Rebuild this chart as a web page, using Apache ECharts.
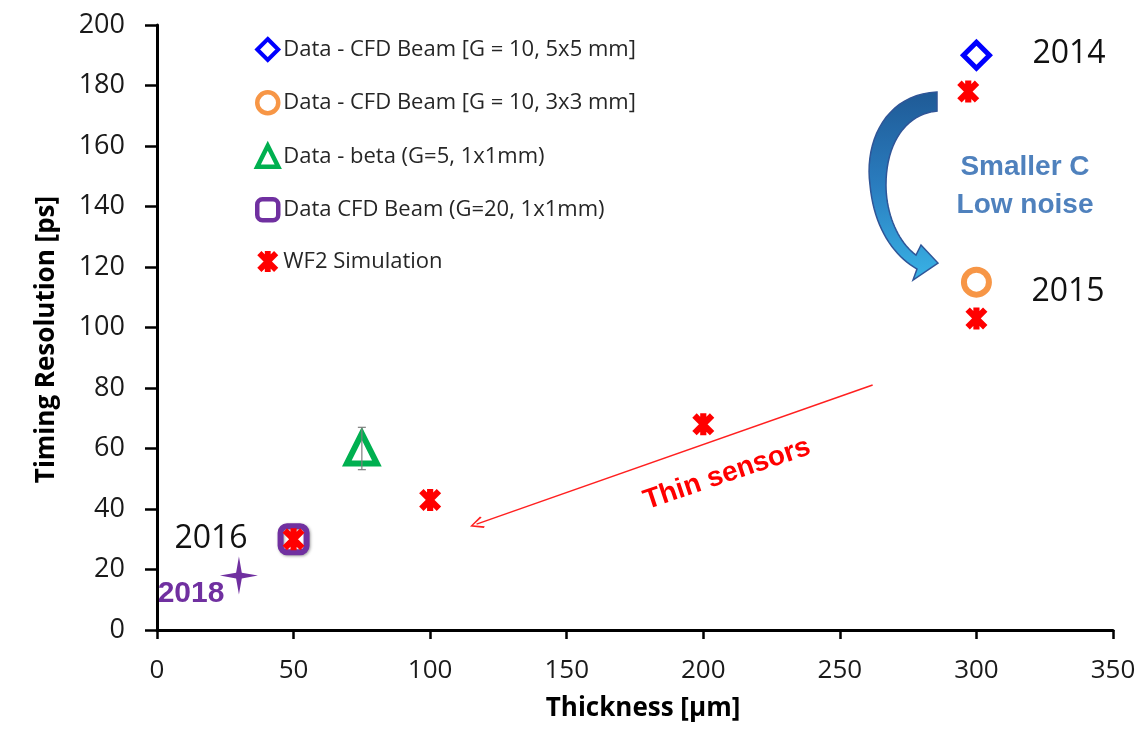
<!DOCTYPE html>
<html><head><meta charset="utf-8">
<script src="https://cdn.jsdelivr.net/npm/echarts@6/dist/echarts.min.js"></script>
<style>html,body{margin:0;padding:0;background:#fff}#c{width:1146px;height:730px}</style>
</head><body><div id="c"></div>
<script>
// ---- data ----
const seriesNames = [
  'Data - CFD Beam [G = 10, 5x5 mm]',
  'Data - CFD Beam [G = 10, 3x3 mm]',
  'Data - beta (G=5, 1x1mm)',
  'Data CFD Beam (G=20, 1x1mm)',
  'WF2 Simulation'
];
const cfd5x5 = [[300, 190]];
const cfd3x3 = [[300, 115]];
const betaData = [[75, 60]];
const betaErr = [[75, 53, 67]];
const cfdG20 = [[50, 30]];
const wf2Sim = [[297, 178], [300, 103], [200, 68], [100, 43], [50, 30]];
const point2018 = [[30, 18]];
const thinArrow = [[262, 81], [117, 35]];
const xMin = 0, xMax = 350, xStep = 50;
const yMin = 0, yMax = 200, yStep = 20;

// ---- symbols ----
const simSymbol = 'path://M-1.4,-5L1.4,-5L1.4,5L-1.4,5Z M-3,-5L5,3L3,5L-5,-3Z M3,-5L5,-3L-3,5L-5,3Z';
const starSymbol = 'path://M0,-10L1.5,-1.5L10,0L1.5,1.5L0,10L-1.5,1.5L-10,0L-1.5,-1.5Z';
const chevron = 'path://M0,0L6,10L4.6,11L0,2.6L-4.6,11L-6,10Z';

// decorative curved arrow (pixel space)
function bez(p0, p1, p2, p3, n) {
  const pts = [];
  for (let i = 0; i <= n; i++) {
    const t = i / n, u = 1 - t;
    pts.push([
      u*u*u*p0[0] + 3*u*u*t*p1[0] + 3*u*t*t*p2[0] + t*t*t*p3[0],
      u*u*u*p0[1] + 3*u*u*t*p1[1] + 3*u*t*t*p2[1] + t*t*t*p3[1]
    ]);
  }
  return pts;
}
const arrowPts = [].concat(
  bez([937, 92], [887, 94], [864, 140], [870, 185], 20),
  bez([870, 185], [874, 228], [894, 256], [917, 269], 20),
  [[913, 280], [938, 263], [921, 245]],
  bez([916, 255], [899, 243], [886, 215], [886, 185], 20),
  bez([886, 185], [886, 143], [906, 114], [937, 111], 20)
);

const chart = echarts.init(document.getElementById('c'));
const FONT = 'Open Sans';
chart.setOption({
  animation: false,
  backgroundColor: '#fff',
  grid: { left: 157, right: 33, top: 25, bottom: 100, containLabel: false, outerBoundsMode: 'none' },
  xAxis: {
    type: 'value', min: xMin, max: xMax, interval: xStep,
    axisLine: { show: true, lineStyle: { color: '#000', width: 3 } },
    axisTick: { show: true, length: 9, lineStyle: { color: '#000', width: 2.5 } },
    splitLine: { show: false },
    axisLabel: { margin: 28, fontSize: 26, fontFamily: FONT, color: '#1a1a1a' },
    name: 'Thickness [µm]', nameLocation: 'middle', nameGap: 66,
    nameTextStyle: { fontFamily: FONT, fontWeight: 'bold', fontSize: 26, color: '#000', padding: [0, 0, 0, 16] }
  },
  yAxis: {
    type: 'value', min: yMin, max: yMax, interval: yStep,
    axisLine: { show: true, lineStyle: { color: '#000', width: 3 } },
    axisTick: { show: true, length: 12, lineStyle: { color: '#000', width: 2.5 } },
    splitLine: { show: false },
    axisLabel: { margin: 32, fontSize: 27, fontFamily: FONT, color: '#1a1a1a' },
    name: 'Timing Resolution [ps]', nameLocation: 'middle', nameGap: 97,
    nameTextStyle: { fontFamily: FONT, fontWeight: 'bold', fontSize: 26, color: '#000', padding: [0, 24, 0, 0] }
  },
  legend: {
    orient: 'vertical', left: 250, top: 32, itemWidth: 21, itemHeight: 21, itemGap: 28,
    selectedMode: false,
    textStyle: { fontFamily: FONT, fontSize: 22, color: '#262626', lineHeight: 22 },
    data: [
      { name: seriesNames[0], itemStyle: { borderWidth: 4 } },
      { name: seriesNames[1], itemStyle: { borderWidth: 4.5 } },
      { name: seriesNames[2], itemStyle: { borderWidth: 4.5 } },
      { name: seriesNames[3], itemStyle: { borderWidth: 4.5 } },
      { name: seriesNames[4] }
    ]
  },
  series: [
    { name: seriesNames[0], type: 'scatter', data: cfd5x5, symbol: 'diamond', symbolSize: 26,
      itemStyle: { color: '#fff', borderColor: '#0000ff', borderWidth: 5, opacity: 1 } },
    { name: seriesNames[1], type: 'scatter', data: cfd3x3, symbol: 'circle', symbolSize: 25,
      itemStyle: { color: '#fff', borderColor: '#f79646', borderWidth: 6, opacity: 1 } },
    { name: seriesNames[2], type: 'scatter', data: betaData, symbol: 'triangle', symbolSize: 30,
      itemStyle: { color: '#fff', borderColor: '#00b050', borderWidth: 6, opacity: 1 } },
    { name: 'beta error', type: 'custom', data: betaErr, z: 5,
      encode: { x: 0, y: [1, 2] },
      renderItem: function (params, api) {
        const x = api.value(0);
        const lo = api.coord([x, api.value(1)]);
        const hi = api.coord([x, api.value(2)]);
        const w = 4;
        const st = { stroke: '#7f7f7f', lineWidth: 1.2 };
        return { type: 'group', children: [
          { type: 'line', shape: { x1: lo[0], y1: lo[1], x2: hi[0], y2: hi[1] }, style: st },
          { type: 'line', shape: { x1: lo[0] - w, y1: lo[1], x2: lo[0] + w, y2: lo[1] }, style: st },
          { type: 'line', shape: { x1: hi[0] - w, y1: hi[1], x2: hi[0] + w, y2: hi[1] }, style: st }
        ]};
      } },
    { name: seriesNames[3], type: 'scatter', data: cfdG20, symbol: 'roundRect', symbolSize: 26,
      itemStyle: { color: '#fff', borderColor: '#7030a0', borderWidth: 6, opacity: 1,
        shadowColor: 'rgba(0,0,0,0.35)', shadowBlur: 3, shadowOffsetX: 1, shadowOffsetY: 1 } },
    { name: seriesNames[4], type: 'scatter', data: wf2Sim, symbol: simSymbol, symbolSize: 22, z: 6,
      itemStyle: { color: '#ff0000', opacity: 1 },
      markLine: {
        silent: true, symbol: ['none', chevron], symbolSize: [12, 14],
        label: { show: false },
        lineStyle: { color: '#ff2020', width: 1.5, type: 'solid', opacity: 1 },
        data: [[{ coord: thinArrow[0] }, { coord: thinArrow[1] }]]
      } },
    { name: '2018', type: 'scatter', data: point2018, symbol: starSymbol, symbolSize: 38,
      itemStyle: { color: '#7030a0', opacity: 1 } }
  ],
  graphic: [
    { type: 'polygon', shape: { points: arrowPts }, z: 1,
      style: { fill: new echarts.graphic.LinearGradient(0, 0, 0, 1, [
        { offset: 0, color: '#1f5a96' }, { offset: 0.5, color: '#2a7dbf' }, { offset: 1, color: '#39b3e6' }]),
        stroke: '#2f5597', lineWidth: 1.5 } },
    { type: 'text', x: 1069, y: 54, style: { text: '2014', fontFamily: FONT, fontSize: 32, fill: '#111', align: 'center', verticalAlign: 'middle' } },
    { type: 'text', x: 1068, y: 292, style: { text: '2015', fontFamily: FONT, fontSize: 32, fill: '#111', align: 'center', verticalAlign: 'middle' } },
    { type: 'text', x: 211, y: 539, style: { text: '2016', fontFamily: FONT, fontSize: 32, fill: '#111', align: 'center', verticalAlign: 'middle' } },
    { type: 'text', x: 191, y: 594, style: { text: '2018', fontFamily: 'Liberation Sans', fontWeight: 'bold', fontSize: 30, fill: '#7030a0', align: 'center', verticalAlign: 'middle' } },
    { type: 'text', x: 1025, y: 186, style: { text: 'Smaller C\nLow noise', fontFamily: 'Liberation Sans', fontWeight: 'bold', fontSize: 28, lineHeight: 38, fill: '#4f81bd', align: 'center', verticalAlign: 'middle' } },
    { type: 'text', x: 727, y: 474, rotation: 0.325, style: { text: 'Thin sensors', fontFamily: 'Liberation Sans', fontWeight: 'bold', fontSize: 28, fill: '#ff0000', align: 'center', verticalAlign: 'middle' } }
  ]
});
</script>
</body></html>
